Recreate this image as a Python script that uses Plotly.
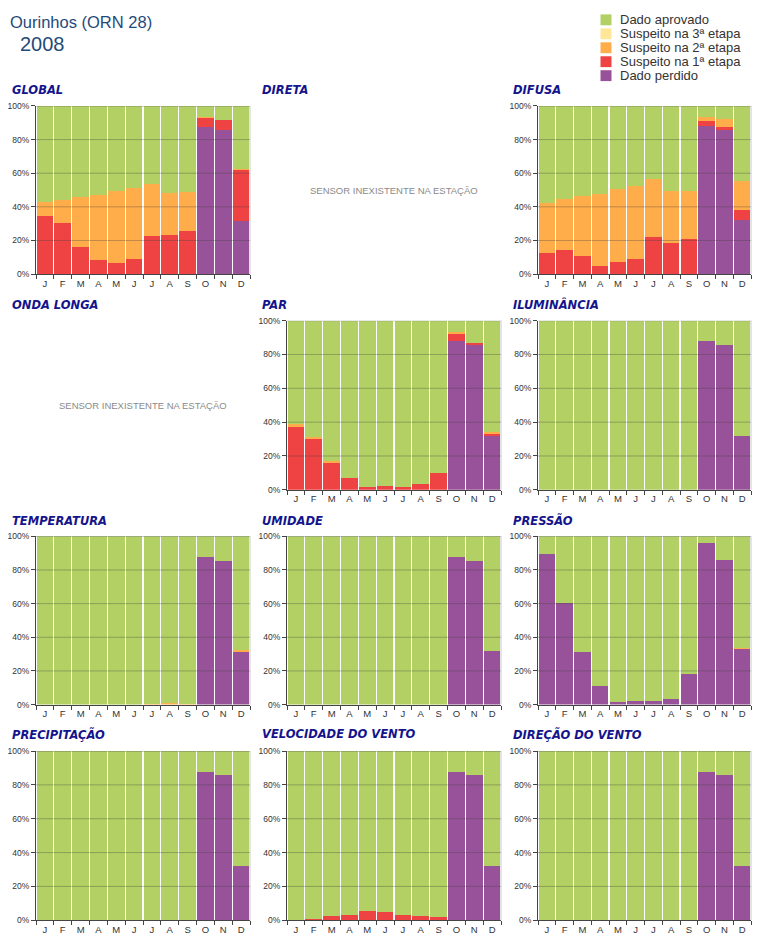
import plotly.graph_objects as go

# ---------------- data ----------------
MONTH_KEYS = ["Jan", "Fev", "Mar", "Abr", "Mai", "Jun", "Jul", "Ago", "Set", "Out", "Nov", "Dez"]
MONTH_LABELS = ["J", "F", "M", "A", "M", "J", "J", "A", "S", "O", "N", "D"]

SERIES_NAMES = ["Dado perdido", "Suspeito na 1ª etapa", "Suspeito na 2ª etapa",
                "Suspeito na 3ª etapa", "Dado aprovado"]
LEGEND_ORDER = ["Dado aprovado", "Suspeito na 3ª etapa", "Suspeito na 2ª etapa",
                "Suspeito na 1ª etapa", "Dado perdido"]

Z = [0] * 12

global_perdido = [0, 0, 0, 0, 0, 0, 0, 0, 0, 87.7, 85.4, 31.6]
global_susp1 = [34.5, 30.3, 16.4, 8.6, 6.8, 9.0, 22.9, 23.4, 25.4, 5.3, 6.4, 30.7]
global_susp2 = [8.3, 14.0, 29.5, 38.3, 42.4, 42.2, 30.8, 24.6, 23.2, 0.4, 0, 0.4]
global_susp3 = Z
global_aprov = [57.2, 55.7, 54.1, 53.1, 50.8, 48.8, 46.3, 52.0, 51.4, 6.6, 8.2, 37.3]

difusa_perdido = [0, 0, 0, 0, 0, 0, 0, 0, 0, 88.1, 85.7, 31.9]
difusa_susp1 = [12.3, 14.3, 10.8, 4.9, 7.2, 8.8, 22.3, 18.8, 20.7, 3.1, 1.6, 6.5]
difusa_susp2 = [30.0, 30.3, 35.8, 42.8, 43.5, 43.3, 34.1, 30.9, 28.8, 2.5, 5.1, 16.8]
difusa_susp3 = Z
difusa_aprov = [57.7, 55.4, 53.4, 52.3, 49.3, 47.9, 43.6, 50.3, 50.5, 6.3, 7.6, 44.8]

par_perdido = [0, 0, 0, 0, 0, 0, 0, 0, 0, 87.7, 86.2, 32.0]
par_susp1 = [37.0, 30.4, 16.4, 6.8, 1.4, 2.1, 1.8, 3.5, 9.7, 5.1, 0.4, 1.5]
par_susp2 = [2.0, 0.6, 0.6, 0, 0, 0, 0, 0, 0, 0.3, 0, 0.4]
par_susp3 = Z
par_aprov = [61.0, 69.0, 83.0, 93.2, 98.6, 97.9, 98.2, 96.5, 90.3, 6.9, 13.4, 66.1]

ilum_perdido = [0, 0, 0, 0, 0, 0, 0, 0, 0, 87.9, 85.6, 31.8]
ilum_susp1 = Z
ilum_susp2 = Z
ilum_susp3 = Z
ilum_aprov = [100, 100, 100, 100, 100, 100, 100, 100, 100, 12.1, 14.4, 68.2]

temp_perdido = [0, 0, 0, 0, 0, 0, 0, 0, 0, 87.7, 85.5, 31.6]
temp_susp1 = Z
temp_susp2 = [0, 0, 0, 0, 0, 0, 0.4, 0.7, 0.4, 0, 0, 0.6]
temp_susp3 = Z
temp_aprov = [100, 100, 100, 100, 100, 100, 99.6, 99.3, 99.6, 12.3, 14.5, 67.8]

umid_perdido = [0, 0, 0, 0, 0, 0, 0, 0, 0, 87.5, 85.4, 31.6]
umid_susp1 = Z
umid_susp2 = Z
umid_susp3 = Z
umid_aprov = [100, 100, 100, 100, 100, 100, 100, 100, 100, 12.5, 14.6, 68.4]

press_perdido = [89.3, 60.2, 31.1, 10.9, 1.8, 2.0, 2.0, 3.5, 18.2, 95.9, 86.1, 33.2]
press_susp1 = Z
press_susp2 = [0, 0, 0, 0, 0, 0, 0, 0, 0, 0, 0, 0.5]
press_susp3 = Z
press_aprov = [10.7, 39.8, 68.9, 89.1, 98.2, 98.0, 98.0, 96.5, 81.8, 4.1, 13.9, 66.3]

prec_perdido = [0, 0, 0, 0, 0, 0, 0, 0, 0, 87.9, 85.6, 32.2]
prec_susp1 = Z
prec_susp2 = Z
prec_susp3 = Z
prec_aprov = [100, 100, 100, 100, 100, 100, 100, 100, 100, 12.1, 14.4, 67.8]

vvel_perdido = [0, 0, 0, 0, 0, 0, 0, 0, 0, 87.9, 85.8, 32.2]
vvel_susp1 = [0, 0.6, 2.3, 3.3, 5.5, 4.9, 3.3, 2.5, 1.9, 0, 0, 0]
vvel_susp2 = Z
vvel_susp3 = Z
vvel_aprov = [100, 99.4, 97.7, 96.7, 94.5, 95.1, 96.7, 97.5, 98.1, 12.1, 14.2, 67.8]

vdir_perdido = [0, 0, 0, 0, 0, 0, 0, 0, 0, 87.9, 85.6, 32.2]
vdir_susp1 = Z
vdir_susp2 = Z
vdir_susp3 = Z
vdir_aprov = [100, 100, 100, 100, 100, 100, 100, 100, 100, 12.1, 14.4, 67.8]

Y_TICKS = [0, 20, 40, 60, 80, 100]
Y_TICK_LABELS = ["0%", "20%", "40%", "60%", "80%", "100%"]

# ---------------- styling ----------------
COLORS = {"Dado perdido": "#985299", "Suspeito na 1ª etapa": "#ef4242",
          "Suspeito na 2ª etapa": "#ffad4a", "Suspeito na 3ª etapa": "#ffe699",
          "Dado aprovado": "#b2d064"}
TITLE_COLOR = "#14148c"
W, H = 760, 949

COL_X = [(36, 250), (287, 501), (538, 751)]
ROW_Y = [(102, 272), (319, 490), (537, 707), (754, 925)]
TITLE_X = [10, 260, 511]
TITLE_Y = [86, 303, 521, 737]

panels = [
    ("GLOBAL", 0, 0, [global_perdido, global_susp1, global_susp2, global_susp3, global_aprov]),
    ("DIRETA", 0, 1, None),
    ("DIFUSA", 0, 2, [difusa_perdido, difusa_susp1, difusa_susp2, difusa_susp3, difusa_aprov]),
    ("ONDA LONGA", 1, 0, None),
    ("PAR", 1, 1, [par_perdido, par_susp1, par_susp2, par_susp3, par_aprov]),
    ("ILUMINÂNCIA", 1, 2, [ilum_perdido, ilum_susp1, ilum_susp2, ilum_susp3, ilum_aprov]),
    ("TEMPERATURA", 2, 0, [temp_perdido, temp_susp1, temp_susp2, temp_susp3, temp_aprov]),
    ("UMIDADE", 2, 1, [umid_perdido, umid_susp1, umid_susp2, umid_susp3, umid_aprov]),
    ("PRESSÃO", 2, 2, [press_perdido, press_susp1, press_susp2, press_susp3, press_aprov]),
    ("PRECIPITAÇÃO", 3, 0, [prec_perdido, prec_susp1, prec_susp2, prec_susp3, prec_aprov]),
    ("VELOCIDADE DO VENTO", 3, 1, [vvel_perdido, vvel_susp1, vvel_susp2, vvel_susp3, vvel_aprov]),
    ("DIREÇÃO DO VENTO", 3, 2, [vdir_perdido, vdir_susp1, vdir_susp2, vdir_susp3, vdir_aprov]),
]

fig = go.Figure()
annotations = []
shapes = []
axis_idx = 0


def px_x(v):
    return v / W


def px_y(v):
    return 1 - v / H


for title, r, c, data in panels:
    annotations.append(dict(
        text=title, x=px_x(TITLE_X[c]), y=px_y(TITLE_Y[r]), xref="paper", yref="paper",
        xanchor="left", yanchor="middle", showarrow=False,
        font=dict(family="DejaVu Sans", size=11.5, color=TITLE_COLOR, weight="bold", style="italic"),
    ))
    x0, x1 = COL_X[c]
    y0, y1 = ROW_Y[r]
    if data is None:
        annotations.append(dict(
            text="SENSOR INEXISTENTE NA ESTAÇÃO", x=px_x((x0 + x1) / 2), y=px_y((y0 + y1) / 2),
            xref="paper", yref="paper", showarrow=False, xanchor="center", yanchor="middle",
            font=dict(family="Liberation Sans", size=9.5, color="#8a8a8a"),
        ))
        continue
    axis_idx += 1
    sfx = "" if axis_idx == 1 else str(axis_idx)
    xa, ya = "x" + sfx, "y" + sfx
    for name, vals in zip(SERIES_NAMES, data):
        fig.add_trace(go.Bar(
            x=MONTH_KEYS, y=vals, name=name, xaxis=xa, yaxis=ya,
            marker=dict(color=COLORS[name], line=dict(width=0)),
            showlegend=False, hoverinfo="x+y+name",
        ))
    fig.layout["xaxis" + sfx] = dict(
        domain=[px_x(x0), px_x(x1)], anchor=ya, type="category",
        tickmode="array", tickvals=MONTH_KEYS, ticktext=MONTH_LABELS,
        tickson="boundaries", ticks="outside", ticklen=4, tickcolor="#444",
        showline=True, linecolor="#444", linewidth=1, showgrid=False,
        tickfont=dict(family="Liberation Sans", size=9.5, color="#333"),
        fixedrange=True,
    )
    fig.layout["yaxis" + sfx] = dict(
        domain=[px_y(y1), px_y(y0)], anchor=xa, range=[0, 100],
        tickmode="array", tickvals=Y_TICKS, ticktext=Y_TICK_LABELS,
        ticks="outside", ticklen=4, tickcolor="#444",
        showline=True, linecolor="#444", linewidth=1, showgrid=False, zeroline=False,
        tickfont=dict(family="Liberation Sans", size=8.5, color="#333"),
        fixedrange=True,
    )
    xd = xa + " domain"
    for gv in Y_TICKS[1:]:
        shapes.append(dict(type="line", xref=xd, yref=ya, x0=0, x1=1, y0=gv, y1=gv,
                           line=dict(color="rgba(70,70,70,0.35)" if gv < 100 else "rgba(90,90,90,0.6)", width=1),
                           layer="above"))
    shapes.append(dict(type="line", xref=xd, yref=ya + " domain", x0=1, x1=1, y0=0, y1=1,
                       line=dict(color="rgba(150,150,150,0.5)", width=1), layer="above"))

# custom legend (top right)
LEG_X, LEG_Y0, LEG_DY, SQ = 606, 15, 14.1, 11
for i, name in enumerate(LEGEND_ORDER):
    cy = LEG_Y0 + i * LEG_DY
    shapes.append(dict(type="rect", xref="paper", yref="paper",
                       x0=px_x(LEG_X - SQ / 2), x1=px_x(LEG_X + SQ / 2),
                       y0=px_y(cy + SQ / 2), y1=px_y(cy - SQ / 2),
                       fillcolor=COLORS[name], line=dict(width=0)))
    annotations.append(dict(text=name, x=px_x(618), y=px_y(cy), xref="paper", yref="paper",
                            xanchor="left", yanchor="middle", showarrow=False,
                            font=dict(family="Liberation Sans", size=13, color="#333")))

annotations.append(dict(text="Ourinhos (ORN 28)", x=px_x(8), y=px_y(17), xref="paper", yref="paper",
                        xanchor="left", yanchor="middle", showarrow=False,
                        font=dict(family="Liberation Sans", size=16.5, color="#1f4a7a")))
annotations.append(dict(text="2008", x=px_x(18), y=px_y(39), xref="paper", yref="paper",
                        xanchor="left", yanchor="middle", showarrow=False,
                        font=dict(family="Liberation Sans", size=20, color="#1f4a7a")))

fig.update_layout(
    width=W, height=H, margin=dict(l=0, r=0, t=0, b=0),
    paper_bgcolor="white", plot_bgcolor="white",
    barmode="stack", bargap=0.06, showlegend=False,
    annotations=annotations, shapes=shapes,
)

fig.write_html("out.html", post_script="document.body.style.margin='0px';",
               config={"displayModeBar": False})
